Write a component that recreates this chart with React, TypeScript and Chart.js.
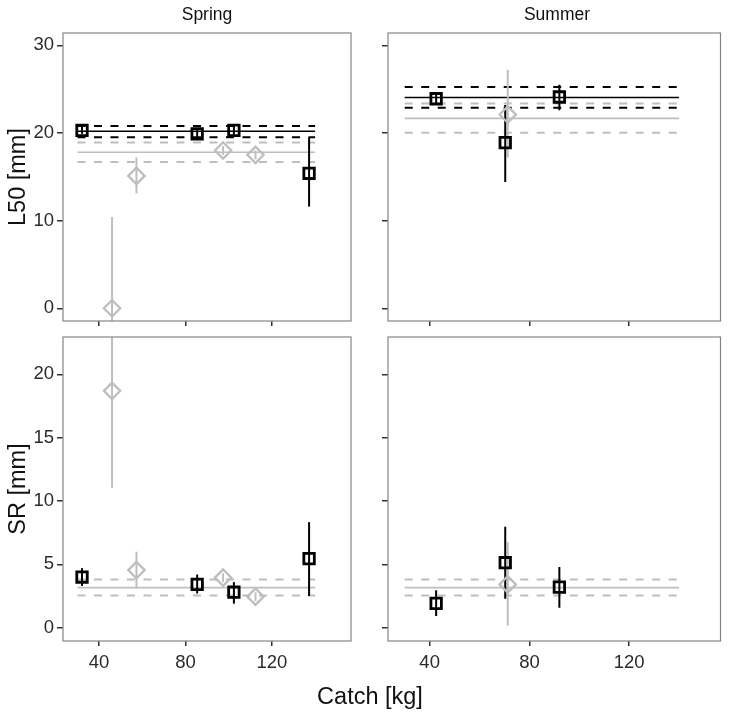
import React, { useEffect, useRef } from "react";
import { Chart, registerables } from "chart.js";

Chart.register(...registerables);

// ---------- axes ----------
const X_TICKS = [40, 80, 120];
const L50_TICKS = [0, 10, 20, 30];
const SR_TICKS = [0, 5, 10, 15, 20];
const X_RANGE = [23.3, 156.6];
const L50_RANGE = [-1.45, 31.4];
const SR_RANGE = [-1.05, 22.95];
const LINE_SPAN = [30, 140];

// ---------- Spring, black squares ----------
const springSqCatch = [32.1, 85.4, 102.4, 137.2];
const springSqL50 = [20.3, 19.9, 20.3, 15.4];
const springSqL50Lo = [19.9, 19.5, 19.8, 11.6];
const springSqL50Hi = [20.7, 20.3, 20.8, 19.5];
const springSqSR = [4.0, 3.42, 2.8, 5.45];
const springSqSRLo = [3.3, 2.7, 1.9, 2.5];
const springSqSRHi = [4.7, 4.2, 3.6, 8.33];

// ---------- Spring, grey diamonds ----------
const springDmCatch = [46.0, 57.3, 97.4, 112.4];
const springDmL50 = [0.0, 15.1, 18.0, 17.5];
const springDmL50Lo = [-10.4, 13.1, 17.5, 17.0];
const springDmL50Hi = [10.4, 17.2, 18.5, 18.0];
const springDmSR = [18.7, 4.55, 3.95, 2.45];
const springDmSRLo = [11.05, 3.1, 3.6, 2.1];
const springDmSRHi = [26.35, 6.0, 4.3, 2.8];

// ---------- Summer, black squares ----------
const summerSqCatch = [42.6, 70.3, 92.0];
const summerSqL50 = [23.9, 18.9, 24.1];
const summerSqL50Lo = [23.4, 14.4, 22.6];
const summerSqL50Hi = [24.5, 23.2, 25.5];
const summerSqSR = [1.92, 5.13, 3.2];
const summerSqSRLo = [0.92, 2.29, 1.58];
const summerSqSRHi = [2.95, 7.97, 4.8];

// ---------- Summer, grey diamonds ----------
const summerDmCatch = [71.3];
const summerDmL50 = [22.1];
const summerDmL50Lo = [17.2];
const summerDmL50Hi = [27.2];
const summerDmSR = [3.42];
const summerDmSRLo = [0.18];
const summerDmSRHi = [6.75];

// ---------- reference lines: [mean, lower, upper] ----------
const springL50Black = [20.2, 19.5, 20.8];
const springL50Grey = [17.8, 16.7, 18.9];
const summerL50Black = [24.05, 22.87, 25.25];
const summerL50Grey = [21.66, 20.02, 23.37];
const srGrey = [3.16, 2.55, 3.8];

const BLACK = "#000000";
const GREY = "#BEBEBE";
const FONT = "'Liberation Sans', Arial, Helvetica, sans-serif";
const W = 731;
const H = 715;
const YW = 40;
const XH = 30;

type Panel = {
  left: number; top: number; right: number; bottom: number;
  xLabels: boolean; yLabels: boolean;
  yRange: number[]; yTicks: number[];
  sq: { c: number[]; v: number[]; lo: number[]; hi: number[] };
  dm: { c: number[]; v: number[]; lo: number[]; hi: number[] };
  black: number[] | null; grey: number[];
};

const PANELS: Panel[] = [
  {
    left: 63, top: 33, right: 351, bottom: 321, xLabels: false, yLabels: true,
    yRange: L50_RANGE, yTicks: L50_TICKS,
    sq: { c: springSqCatch, v: springSqL50, lo: springSqL50Lo, hi: springSqL50Hi },
    dm: { c: springDmCatch, v: springDmL50, lo: springDmL50Lo, hi: springDmL50Hi },
    black: springL50Black, grey: springL50Grey,
  },
  {
    left: 388, top: 33, right: 727, bottom: 321, xLabels: false, yLabels: false,
    yRange: L50_RANGE, yTicks: L50_TICKS,
    sq: { c: summerSqCatch, v: summerSqL50, lo: summerSqL50Lo, hi: summerSqL50Hi },
    dm: { c: summerDmCatch, v: summerDmL50, lo: summerDmL50Lo, hi: summerDmL50Hi },
    black: summerL50Black, grey: summerL50Grey,
  },
  {
    left: 63, top: 337, right: 351, bottom: 641, xLabels: true, yLabels: true,
    yRange: SR_RANGE, yTicks: SR_TICKS,
    sq: { c: springSqCatch, v: springSqSR, lo: springSqSRLo, hi: springSqSRHi },
    dm: { c: springDmCatch, v: springDmSR, lo: springDmSRLo, hi: springDmSRHi },
    black: null, grey: srGrey,
  },
  {
    left: 388, top: 337, right: 727, bottom: 641, xLabels: true, yLabels: false,
    yRange: SR_RANGE, yTicks: SR_TICKS,
    sq: { c: summerSqCatch, v: summerSqSR, lo: summerSqSRLo, hi: summerSqSRHi },
    dm: { c: summerDmCatch, v: summerDmSR, lo: summerDmSRLo, hi: summerDmSRHi },
    black: null, grey: srGrey,
  },
];

function refLines(vals: number[], color: string) {
  return vals.map((v, i) => ({
    data: [{ x: LINE_SPAN[0], y: v }, { x: LINE_SPAN[1], y: v }],
    showLine: true,
    borderColor: color,
    borderWidth: i === 0 ? 1.6 : 2,
    borderDash: i === 0 ? [] : [8, 8.5],
    pointRadius: 0,
    clip: 0,
    order: 5,
  }));
}

function errBars(s: { c: number[]; lo: number[]; hi: number[] }, color: string) {
  return s.c.map((c, i) => ({
    data: [{ x: c, y: s.lo[i] }, { x: c, y: s.hi[i] }],
    showLine: true,
    borderColor: color,
    borderWidth: 2,
    pointRadius: 0,
    clip: 0,
    order: 3,
  }));
}

const borderPlugin = {
  id: "panelBorder",
  afterDraw(chart: any) {
    const { ctx, chartArea } = chart;
    ctx.save();
    ctx.strokeStyle = "#858585";
    ctx.lineWidth = 1.2;
    ctx.strokeRect(chartArea.left, chartArea.top, chartArea.right - chartArea.left, chartArea.bottom - chartArea.top);
    ctx.restore();
  },
};

function PanelChart({ p }: { p: Panel }) {
  const ref = useRef<HTMLCanvasElement | null>(null);
  useEffect(() => {
    if (!ref.current) return;
    const datasets: any[] = [
      {
        data: p.sq.c.map((c, i) => ({ x: c, y: p.sq.v[i] })),
        pointStyle: "rect",
        pointRadius: 7.4,
        borderWidth: 2.8,
        borderColor: BLACK,
        backgroundColor: "rgba(0,0,0,0)",
        order: 0,
      },
      {
        data: p.dm.c.map((c, i) => ({ x: c, y: p.dm.v[i] })),
        pointStyle: "rectRot",
        pointRadius: 8.2,
        borderWidth: 2.3,
        borderColor: GREY,
        backgroundColor: "rgba(0,0,0,0)",
        order: 1,
      },
      ...errBars(p.sq, BLACK),
      ...errBars(p.dm, GREY),
      ...(p.black ? refLines(p.black, BLACK) : []),
      ...refLines(p.grey, GREY),
    ];
    const chart = new Chart(ref.current, {
      type: "scatter",
      data: { datasets },
      options: {
        animation: false,
        responsive: false,
        devicePixelRatio: 1,
        layout: {
          padding: { left: p.left - YW, top: p.top, right: W - p.right, bottom: H - p.bottom - XH },
        },
        plugins: { legend: { display: false }, tooltip: { enabled: false } },
        scales: {
          x: {
            type: "linear",
            min: X_RANGE[0],
            max: X_RANGE[1],
            afterBuildTicks: (s: any) => { s.ticks = X_TICKS.map((v) => ({ value: v })); },
            afterFit: (s: any) => { s.height = XH; },
            border: { display: false },
            grid: { drawOnChartArea: false, drawTicks: true, tickLength: 5, color: "#333333", lineWidth: 1.5 },
            ticks: {
              display: p.xLabels,
              autoSkip: false,
              maxRotation: 0,
              padding: 6,
              color: "#2b2b2b",
              font: { family: FONT, size: 18.5 },
              callback: (v: any) => String(v),
            },
          },
          y: {
            type: "linear",
            min: p.yRange[0],
            max: p.yRange[1],
            afterBuildTicks: (s: any) => { s.ticks = p.yTicks.map((v) => ({ value: v })); },
            afterFit: (s: any) => { s.width = YW; },
            border: { display: false },
            grid: { drawOnChartArea: false, drawTicks: true, tickLength: 6, color: "#333333", lineWidth: 1.5 },
            ticks: {
              display: p.yLabels,
              autoSkip: false,
              padding: 3,
              color: "#2b2b2b",
              font: { family: FONT, size: 18.5 },
              callback: (v: any) => String(v),
            },
          },
        },
      },
      plugins: [borderPlugin],
    } as any);
    return () => chart.destroy();
  }, [p]);
  return (
    <canvas
      ref={ref}
      width={W}
      height={H}
      style={{ position: "absolute", left: 0, top: 0, width: W, height: H }}
    />
  );
}

const textStyle = (x: number, y: number, size: number, rotate = false): React.CSSProperties => ({
  position: "absolute",
  left: x,
  top: y,
  transform: `translate(-50%, -50%)${rotate ? " rotate(-90deg)" : ""}`,
  fontFamily: FONT,
  fontSize: size,
  color: "#111111",
  whiteSpace: "nowrap",
  lineHeight: 1,
});

export default function App() {
  return (
    <div style={{ position: "absolute", left: 0, top: 0, width: W, height: H, background: "#fff", overflow: "hidden" }}>
      {PANELS.map((p, i) => (
        <PanelChart key={i} p={p} />
      ))}
      <div style={textStyle(207, 15, 17.5)}>Spring</div>
      <div style={textStyle(557, 15, 17.5)}>Summer</div>
      <div style={textStyle(18, 177, 23.5, true)}>L50 [mm]</div>
      <div style={textStyle(18, 489, 23.5, true)}>SR [mm]</div>
      <div style={textStyle(370, 697, 23.5)}>Catch [kg]</div>
    </div>
  );
}
